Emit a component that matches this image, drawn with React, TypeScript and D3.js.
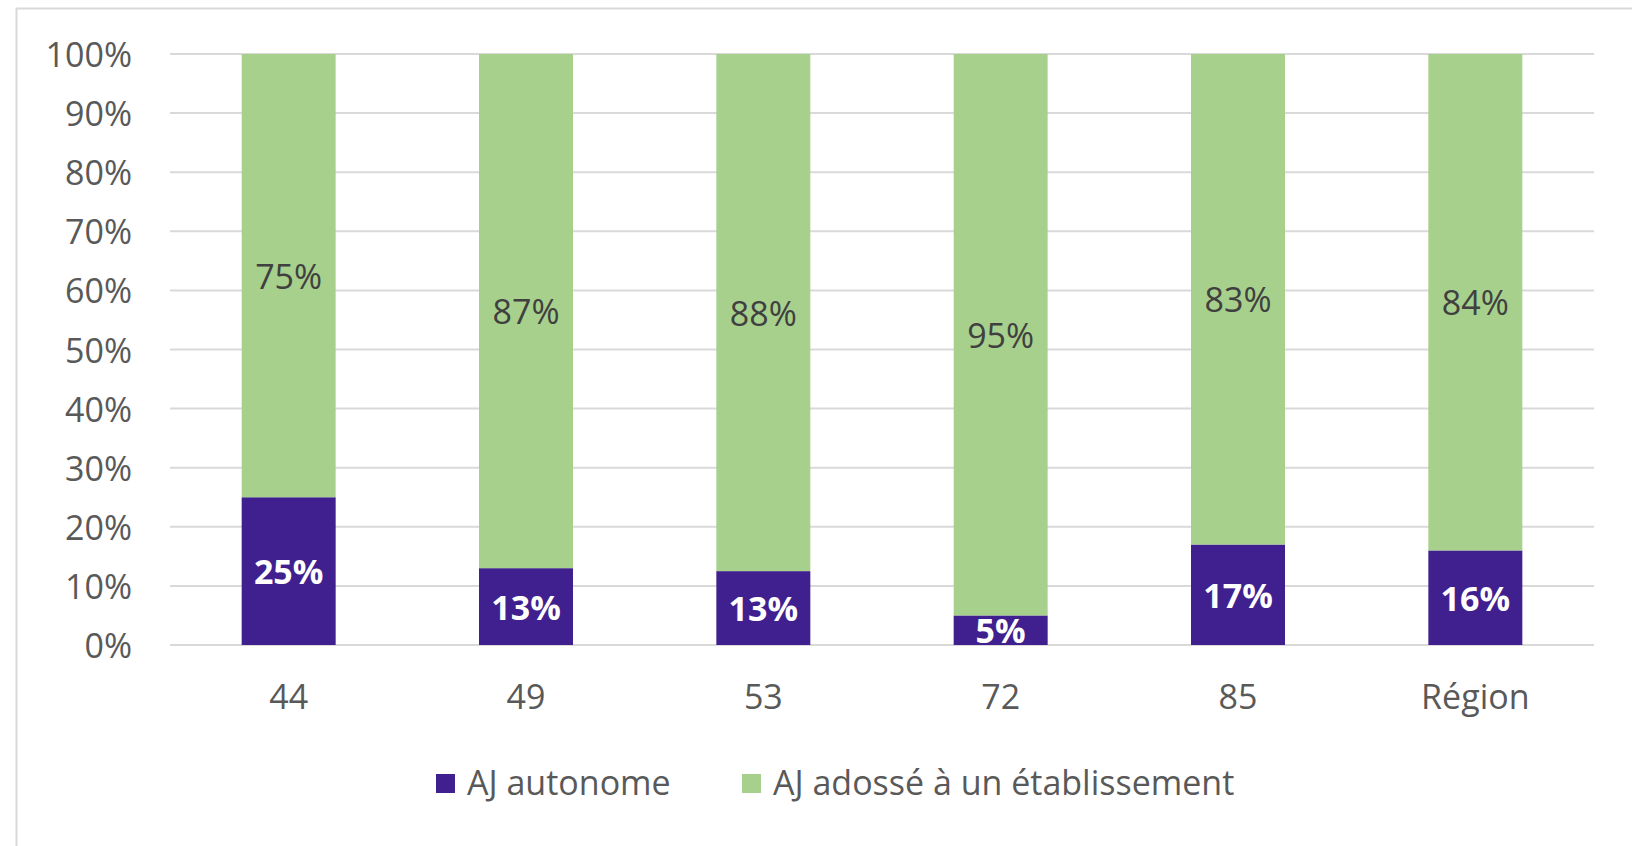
import React from "react";
import * as d3 from "d3";

const categories = ["44", "49", "53", "72", "85", "Région"];
const autonome = [25, 13, 12.5, 5, 17, 16];
const adosse = [75, 87, 87.5, 95, 83, 84];
const yTicks = [0, 10, 20, 30, 40, 50, 60, 70, 80, 90, 100];
const seriesNames = ["AJ autonome", "AJ adossé à un établissement"];

const W = 1632;
const H = 846;
const FONT = "'Open Sans', 'Noto Sans', sans-serif";
const PURPLE = "#40208F";
const GREEN = "#A8D08D";
const TEXT = "#595959";
const GRID = "#D9D9D9";
const FS = 34;

export default function App() {
  const margin = { left: 170, right: 38, top: 54, bottom: 201 };
  const x = d3
    .scaleBand<string>()
    .domain(categories)
    .range([margin.left, W - margin.right])
    .paddingInner(0.604)
    .paddingOuter(0.302);
  const y = d3.scaleLinear().domain([0, 100]).range([H - margin.bottom, margin.top]);

  const rows = categories.map((c, i) => ({ cat: c, autonome: autonome[i], adosse: adosse[i] }));
  const stack = d3.stack<any>().keys(["autonome", "adosse"])(rows);
  const colors = [PURPLE, GREEN];
  const labelColors = ["#FFFFFF", "#404040"];
  const labelWeights = [700, 400];

  const legendX = [436, 742];

  return (
    <svg
      width={W}
      height={H}
      style={{ position: "absolute", left: 0, top: 0, background: "#fff" }}
      fontFamily={FONT}
    >
      <rect x={0} y={0} width={W} height={H} fill="#fff" />
      <line x1={16.5} x2={16.5} y1={8} y2={H} stroke={GRID} strokeWidth={2} />
      <line x1={16} x2={W} y1={8.5} y2={8.5} stroke={GRID} strokeWidth={2} />

      {yTicks.map((t) => (
        <g key={t}>
          <line
            x1={margin.left}
            x2={W - margin.right}
            y1={y(t)}
            y2={y(t)}
            stroke={GRID}
            strokeWidth={2}
          />
          <text
            x={132}
            y={y(t)}
            textAnchor="end"
            dominantBaseline="central"
            fontSize={FS}
            fill={TEXT}
          >
            {t}%
          </text>
        </g>
      ))}

      {stack.map((layer, li) =>
        layer.map((d, i) => (
          <rect
            key={`${li}-${i}`}
            x={x(categories[i])}
            y={y(d[1])}
            width={x.bandwidth()}
            height={y(d[0]) - y(d[1])}
            fill={colors[li]}
          />
        ))
      )}

      {stack.map((layer, li) =>
        layer.map((d, i) => (
          <text
            key={`l${li}-${i}`}
            x={(x(categories[i]) as number) + x.bandwidth() / 2}
            y={y((d[0] + d[1]) / 2)}
            textAnchor="middle"
            dominantBaseline="central"
            fontSize={FS}
            fontWeight={labelWeights[li]}
            fill={labelColors[li]}
          >
            {Math.round(d[1] - d[0])}%
          </text>
        ))
      )}

      {categories.map((c) => (
        <text
          key={c}
          x={(x(c) as number) + x.bandwidth() / 2}
          y={696}
          textAnchor="middle"
          dominantBaseline="central"
          fontSize={FS}
          fill={TEXT}
        >
          {c}
        </text>
      ))}

      {seriesNames.map((s, i) => (
        <g key={s}>
          <rect x={legendX[i]} y={774} width={19} height={19} fill={colors[i]} />
          <text
            x={legendX[i] + 31}
            y={782}
            dominantBaseline="central"
            fontSize={FS}
            fill={TEXT}
          >
            {s}
          </text>
        </g>
      ))}
    </svg>
  );
}
